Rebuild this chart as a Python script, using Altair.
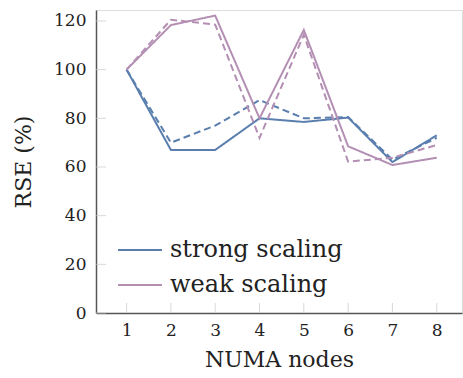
import altair as alt
import pandas as pd

nodes = [1, 2, 3, 4, 5, 6, 7, 8]
y_ticks = [0, 20, 40, 60, 80, 100, 120]
strong_solid = [100, 67, 67, 80, 78.5, 80.3, 62, 73]
strong_dashed = [100, 70, 77, 87.5, 80, 80.5, 63, 72]
weak_solid = [100, 118.3, 122.2, 80, 116.3, 68.5, 60.8, 63.8]
weak_dashed = [100, 120.5, 118.5, 72, 114.3, 62.2, 63.8, 69]

rows = []
for name, vals, style in [
    ("strong scaling", strong_solid, "solid"),
    ("strong scaling", strong_dashed, "dashed"),
    ("weak scaling", weak_solid, "solid"),
    ("weak scaling", weak_dashed, "dashed"),
]:
    for n, v in zip(nodes, vals):
        rows.append({"nodes": n, "rse": v, "series": name, "style": style, "key": name + style})
df = pd.DataFrame(rows)

FONT = "DejaVu Serif"
H = 303

xscale = alt.Scale(domain=[0.31, 8.57], nice=False, zero=False)
yscale = alt.Scale(domain=[0, 124.5], nice=False)

lines = alt.Chart(df).mark_line(strokeWidth=2).encode(
    x=alt.X("nodes:Q", scale=xscale,
            axis=alt.Axis(values=nodes, title="NUMA nodes", grid=False, ticks=False,
                          domainColor="#555555", domainWidth=1.5,
                          labelFont=FONT, labelFontSize=17, labelColor="#222222",
                          labelPadding=9, titleFont=FONT, titleFontSize=22,
                          titleFontWeight="normal", titleColor="#222222", titlePadding=11)),
    y=alt.Y("rse:Q", scale=yscale,
            axis=alt.Axis(values=y_ticks, title="RSE (%)", grid=False, ticks=False,
                          domainColor="#555555", domainWidth=1.5,
                          labelFont=FONT, labelFontSize=17, labelColor="#222222",
                          labelPadding=10, titleFont=FONT, titleFontSize=22,
                          titleFontWeight="normal", titleColor="#222222", titlePadding=18)),
    color=alt.Color("series:N",
                    scale=alt.Scale(domain=["strong scaling", "weak scaling"],
                                    range=["#5a7fae", "#b48fb4"]),
                    legend=alt.Legend(title=None, orient="none", legendX=21, legendY=217,
                                      symbolType="stroke", symbolSize=1936, symbolStrokeWidth=2,
                                      labelFont=FONT, labelFontSize=24, labelColor="#222222",
                                      labelOffset=7, rowPadding=-2, labelLimit=400)),
    strokeDash=alt.StrokeDash("style:N",
                              scale=alt.Scale(domain=["solid", "dashed"], range=[[1, 0], [7, 4]]),
                              legend=None),
    detail="key:N",
)

xt = alt.Chart(pd.DataFrame({"nodes": nodes})).mark_tick(
    color="#c8c8c8", thickness=1, size=10, orient="vertical"
).encode(x=alt.X("nodes:Q", scale=xscale), y=alt.value(H - 5))

yt = alt.Chart(pd.DataFrame({"v": y_ticks})).mark_tick(
    color="#c8c8c8", thickness=1, size=10, orient="horizontal"
).encode(y=alt.Y("v:Q", scale=yscale), x=alt.value(5))

chart = alt.layer(xt, yt, lines).properties(
    width=366, height=H,
    padding={"left": 96, "top": 10, "right": 1, "bottom": 65},
    autosize=alt.AutoSizeParams(type="none"),
).configure_view(stroke=None).configure(background="white")

chart.save("out.html", embed_options={"renderer": "svg", "actions": False})
